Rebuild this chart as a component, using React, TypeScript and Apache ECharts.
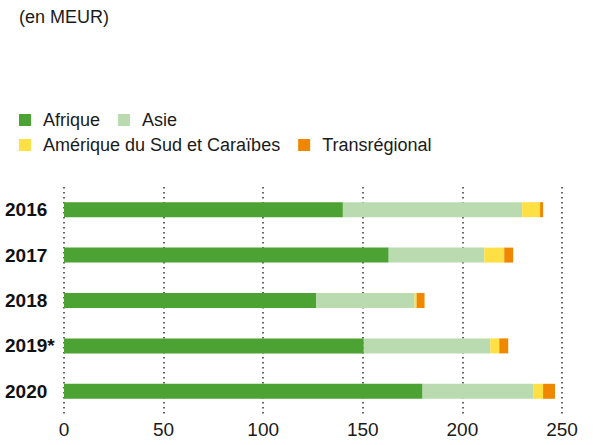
import React, { useEffect, useRef } from "react";
import * as echarts from "echarts";

const categories = ["2016", "2017", "2018", "2019*", "2020"];
const afrique = [140, 163, 126.5, 150.5, 180];
const asie = [90, 48, 49.5, 63.5, 55.5];
const amerique = [9, 10, 1, 4.5, 5];
const transregional = [1.5, 4.5, 4, 4.5, 6];
const xTicks = [0, 50, 100, 150, 200, 250];

const FONT = "'Liberation Sans', Arial, sans-serif";

export default function App() {
  const ref = useRef<HTMLDivElement>(null);
  useEffect(() => {
    document.body.style.margin = "0";
    const chart = echarts.init(ref.current!, undefined, { renderer: "svg" });
    const mk = (name: string, data: number[], color: string) => ({
      name,
      type: "bar",
      stack: "total",
      data,
      barWidth: 15,
      itemStyle: { color },
      emphasis: { disabled: true },
    });
    const legendText = { fontSize: 18, color: "#1a1a1a", fontFamily: FONT, padding: [0, 0, 0, 7] };
    chart.setOption({
      animation: false,
      textStyle: { fontFamily: FONT },
      title: {
        text: "(en MEUR)",
        left: 19,
        top: 8,
        padding: 0,
        textStyle: { fontSize: 18, fontWeight: "normal", color: "#1a1a1a", fontFamily: FONT },
      },
      legend: [
        {
          data: ["Afrique", "Asie"],
          left: 19,
          top: 111,
          padding: 0,
          itemWidth: 12,
          itemHeight: 12,
          itemGap: 18,
          icon: "rect",
          textStyle: legendText,
          selectedMode: false,
        },
        {
          data: ["Amérique du Sud et Caraïbes", "Transrégional"],
          left: 19,
          top: 136,
          padding: 0,
          itemWidth: 12,
          itemHeight: 12,
          itemGap: 18,
          icon: "rect",
          textStyle: legendText,
          selectedMode: false,
        },
      ],
      grid: { left: 64, right: 31, top: 187, height: 227, containLabel: false },
      xAxis: {
        type: "value",
        min: xTicks[0],
        max: xTicks[xTicks.length - 1],
        interval: 50,
        axisLine: { show: false },
        axisTick: { show: false },
        axisLabel: { fontSize: 19, color: "#1a1a1a", margin: 6, fontFamily: FONT },
        splitLine: { show: true, lineStyle: { type: [1.5, 3.5], color: "#333", width: 1.5 } },
      },
      yAxis: {
        type: "category",
        data: categories,
        inverse: true,
        axisLine: { show: false },
        axisTick: { show: false },
        axisLabel: {
          fontSize: 19,
          fontWeight: "bold",
          color: "#111",
          align: "left",
          margin: 59,
          fontFamily: FONT,
        },
      },
      series: [
        mk("Afrique", afrique, "#4ca333"),
        mk("Asie", asie, "#badbb0"),
        mk("Amérique du Sud et Caraïbes", amerique, "#ffe044"),
        mk("Transrégional", transregional, "#ef8800"),
      ],
    });
    return () => chart.dispose();
  }, []);
  return <div ref={ref} style={{ width: 593, height: 445 }} />;
}
